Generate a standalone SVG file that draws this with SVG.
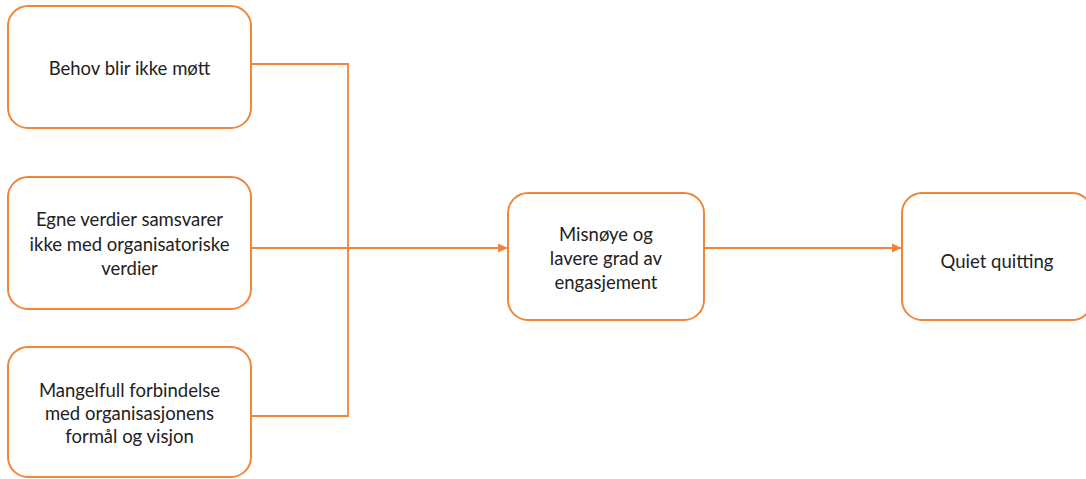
<svg xmlns="http://www.w3.org/2000/svg" width="1086" height="479" viewBox="0 0 1086 479">
  <style>
    .box { fill: #ffffff; stroke: #F0863A; stroke-width: 2; }
    .lbl { font-family: Lato, "Open Sans", "Liberation Sans", sans-serif; font-size: 18.5px; fill: #222222; text-anchor: middle; }
    .wire { fill: none; stroke: #F0863A; stroke-width: 1.8; }
  </style>
  <defs>
    <marker id="arrow" viewBox="0 0 10 10" refX="10" refY="5" markerWidth="10" markerHeight="10" markerUnits="userSpaceOnUse" orient="auto">
      <path d="M0,0.5 L10,5 L0,9.5 z" fill="#F0863A"/>
    </marker>
  </defs>
  <rect width="1086" height="479" fill="#ffffff"/>

  <g id="connectors">
    <polyline class="wire" points="251,64 348,64 348,416 251,416"/>
    <line class="wire" x1="251" y1="248" x2="508" y2="248" marker-end="url(#arrow)"/>
    <line class="wire" x1="704" y1="248" x2="902" y2="248" marker-end="url(#arrow)"/>
  </g>

  <g id="behov">
    <rect class="box" x="8" y="6" width="243" height="122" rx="20"/>
    <text class="lbl" x="129.5" y="75">Behov blir ikke møtt</text>
  </g>

  <g id="verdier">
    <rect class="box" x="8" y="177" width="243" height="132" rx="20"/>
    <text class="lbl" x="129.5" y="226">Egne verdier samsvarer</text>
    <text class="lbl" x="129.5" y="251">ikke med organisatoriske</text>
    <text class="lbl" x="129.5" y="275">verdier</text>
  </g>

  <g id="forbindelse">
    <rect class="box" x="8" y="347" width="243" height="130" rx="20"/>
    <text class="lbl" x="129.5" y="397">Mangelfull forbindelse</text>
    <text class="lbl" x="129.5" y="420">med organisasjonens</text>
    <text class="lbl" x="129.5" y="443">formål og visjon</text>
  </g>

  <g id="misnoye">
    <rect class="box" x="508" y="193" width="196" height="127" rx="20"/>
    <text class="lbl" x="606" y="241">Misnøye og</text>
    <text class="lbl" x="606" y="265">lavere grad av</text>
    <text class="lbl" x="606" y="289">engasjement</text>
  </g>

  <g id="quiet">
    <rect class="box" x="902" y="193" width="190" height="127" rx="20"/>
    <text class="lbl" x="997" y="268">Quiet quitting</text>
  </g>
</svg>
